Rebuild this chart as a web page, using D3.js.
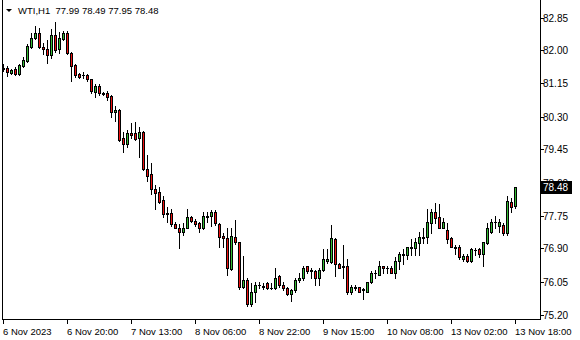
<!DOCTYPE html>
<meta charset="utf-8">
<style>
body { margin: 0; background: #fff; }
svg { display: block; font-family: "Liberation Sans", Arial, sans-serif; }
.frame, .tick { stroke: #000; stroke-width: 1; shape-rendering: crispEdges; }
</style>
<body>
<script src="https://d3js.org/d3.v7.min.js"></script>
<script>

// WTI H1 bars, oldest first
var opens = [
  81.53, 81.55, 81.42, 81.52, 81.39, 81.60, 81.73, 82.09, 82.32, 82.45,
  82.09, 82.04, 81.88, 82.40, 82.04, 82.30, 82.45, 81.93, 81.62, 81.39,
  81.37, 81.37, 81.26, 80.93, 81.08, 80.90, 80.90, 80.82, 80.41, 80.46,
  79.74, 79.59, 79.87, 79.87, 79.74, 79.90, 78.94, 78.81, 78.43, 78.35,
  78.14, 77.81, 77.81, 77.52, 77.44, 77.32, 77.44, 77.70, 77.60, 77.55,
  77.42, 77.73, 77.73, 77.83, 77.52, 77.21, 77.16, 76.36, 77.19, 77.06,
  75.90, 76.10, 75.48, 75.77, 75.95, 75.92, 76.00, 75.87, 75.87, 76.18,
  75.97, 75.87, 75.72, 75.82, 76.08, 76.13, 76.44, 76.34, 76.31, 76.13,
  76.34, 76.59, 76.54, 77.14, 76.49, 76.44, 76.44, 75.77, 75.87, 75.90,
  75.85, 75.79, 76.03, 76.26, 76.23, 76.44, 76.41, 76.39, 76.26, 76.57,
  76.72, 76.72, 76.90, 76.90, 77.03, 77.16, 77.19, 77.55, 77.83, 77.70,
  77.44, 77.37, 77.16, 76.95, 76.93, 76.62, 76.70, 76.57, 76.85, 76.88,
  76.75, 77.03, 77.32, 77.57, 77.47, 77.50, 77.29, 78.09, 77.99
];
var highs = [
  81.65, 81.60, 81.52, 81.57, 81.65, 81.83, 82.17, 82.45, 82.63, 82.58,
  82.19, 82.27, 82.55, 82.73, 82.48, 82.50, 82.50, 81.96, 81.65, 81.42,
  81.44, 81.39, 81.27, 81.13, 81.13, 80.94, 80.95, 80.85, 80.57, 80.49,
  79.90, 79.95, 80.13, 80.15, 80.02, 79.92, 79.30, 79.10, 78.53, 78.48,
  78.24, 77.96, 77.91, 77.57, 77.52, 77.55, 77.91, 77.75, 77.65, 77.57,
  77.83, 77.83, 77.88, 77.88, 77.55, 77.29, 77.44, 77.44, 77.63, 77.08,
  76.70, 76.15, 76.00, 76.03, 76.03, 76.00, 76.03, 76.00, 76.39, 76.21,
  76.03, 75.90, 75.85, 76.13, 76.26, 76.46, 76.46, 76.41, 76.34, 76.41,
  76.88, 76.88, 77.50, 77.16, 76.52, 76.98, 76.62, 75.97, 75.95, 75.92,
  75.87, 76.05, 76.31, 76.34, 76.59, 76.46, 76.44, 76.44, 76.67, 76.80,
  76.88, 76.95, 77.14, 77.16, 77.32, 77.42, 77.91, 77.91, 78.06, 78.04,
  77.68, 77.55, 77.19, 76.98, 76.98, 76.75, 76.75, 76.90, 76.90, 76.90,
  77.08, 77.55, 77.65, 77.75, 77.65, 77.55, 78.24, 78.19, 78.49
];
var lows = [
  81.47, 81.34, 81.39, 81.37, 81.37, 81.57, 81.70, 82.06, 82.30, 82.06,
  81.91, 81.68, 81.80, 81.96, 81.93, 82.27, 81.91, 81.21, 81.31, 81.29,
  81.29, 81.21, 80.90, 80.80, 80.85, 80.85, 80.72, 80.28, 80.18, 79.66,
  79.38, 79.51, 79.74, 79.69, 79.25, 78.92, 78.63, 78.30, 77.93, 78.06,
  77.70, 77.57, 77.47, 77.42, 76.90, 77.26, 77.42, 77.57, 77.47, 77.32,
  77.39, 77.57, 77.47, 77.50, 76.95, 76.95, 76.23, 76.34, 77.01, 75.85,
  75.87, 75.43, 75.43, 75.51, 75.87, 75.85, 75.85, 75.85, 75.85, 75.92,
  75.82, 75.69, 75.56, 75.79, 76.03, 76.10, 76.28, 76.15, 75.97, 75.97,
  76.31, 76.52, 76.52, 76.18, 76.39, 76.15, 75.74, 75.74, 75.82, 75.77,
  75.59, 75.77, 76.00, 76.13, 76.21, 76.28, 76.26, 76.26, 76.13, 76.36,
  76.49, 76.64, 76.72, 76.72, 76.72, 77.03, 77.03, 77.29, 77.55, 77.42,
  77.42, 77.03, 76.93, 76.75, 76.64, 76.59, 76.54, 76.54, 76.72, 76.67,
  76.44, 77.01, 77.29, 77.44, 77.32, 77.26, 77.26, 77.83, 77.95
];
var closes = [
  81.55, 81.44, 81.50, 81.39, 81.62, 81.75, 82.11, 82.32, 82.45, 82.09,
  82.04, 81.88, 82.40, 82.01, 82.32, 82.45, 81.93, 81.60, 81.37, 81.31,
  81.36, 81.26, 80.95, 81.08, 80.90, 80.89, 80.80, 80.41, 80.46, 79.69,
  79.59, 79.87, 79.82, 79.72, 79.90, 78.94, 78.76, 78.43, 78.32, 78.09,
  77.78, 77.80, 77.52, 77.44, 77.32, 77.44, 77.70, 77.60, 77.52, 77.42,
  77.75, 77.72, 77.83, 77.55, 77.19, 77.16, 76.39, 77.21, 77.06, 75.90,
  76.08, 75.48, 75.79, 75.95, 75.96, 75.93, 75.87, 75.88, 76.15, 75.95,
  75.87, 75.72, 75.82, 76.10, 76.15, 76.41, 76.31, 76.33, 76.13, 76.34,
  76.62, 76.64, 77.16, 76.49, 76.41, 76.43, 75.77, 75.90, 75.92, 75.79,
  75.84, 76.03, 76.26, 76.28, 76.44, 76.39, 76.40, 76.28, 76.57, 76.75,
  76.75, 76.93, 76.93, 77.06, 77.19, 77.19, 77.57, 77.83, 77.68, 77.44,
  77.57, 77.14, 76.95, 76.90, 76.67, 76.70, 76.57, 76.88, 76.86, 76.77,
  77.06, 77.42, 77.57, 77.58, 77.57, 77.29, 78.12, 77.96, 78.48
];

var priceTicks = ["75.20", "76.05", "76.90", "77.75", "78.60", "79.45", "80.30", "81.15", "82.00", "82.85"];
var timeLabels = ["6 Nov 2023", "6 Nov 20:00", "7 Nov 13:00", "8 Nov 06:00", "8 Nov 22:00",
                  "9 Nov 15:00", "10 Nov 08:00", "13 Nov 02:00", "13 Nov 18:00"];
var timeLabelBars = [0, 16, 32, 48, 64, 80, 96, 112, 128];
var header = "WTI,H1  77.99 78.49 77.95 78.48";
var lastPrice = "78.48";

var W = 580, H = 340;
var plotRight = 540, plotBottom = 319;
var bullColor = "#33bb33", bearColor = "#ee1111";

var svg = d3.select("body").append("svg")
    .attr("width", W)
    .attr("height", H);

var bars = opens.map(function(o, i) {
  return {i: i, o: o, h: highs[i], l: lows[i], c: closes[i]};
});

var x = d3.scaleLinear().domain([0, bars.length - 1]).range([3.5, 515.5]);
var y = d3.scaleLinear().domain([75.20, 82.85]).range([314.5, 17.5]);

// frame
svg.append("line").attr("class", "frame")
    .attr("x1", 2.5).attr("x2", 2.5).attr("y1", 0).attr("y2", plotBottom + 0.5);
svg.append("line").attr("class", "frame")
    .attr("x1", plotRight + 0.5).attr("x2", plotRight + 0.5).attr("y1", 0).attr("y2", plotBottom + 0.5);
svg.append("line").attr("class", "frame")
    .attr("x1", 2).attr("x2", plotRight + 1).attr("y1", plotBottom + 0.5).attr("y2", plotBottom + 0.5);

// candles
var g = svg.append("g");
bars.forEach(function(d) {
  var cx = x(d.i);
  var yh = Math.round(y(d.h)), yl = Math.round(y(d.l));
  var yo = Math.round(y(d.o)), yc = Math.round(y(d.c));
  g.append("rect")
      .attr("x", cx - 0.5).attr("y", yh)
      .attr("width", 1).attr("height", yl - yh + 1)
      .attr("fill", "#000");
  var top = Math.min(yo, yc), bot = Math.max(yo, yc);
  if (bot - top < 1) {
    g.append("rect")
        .attr("x", cx - 1.5).attr("y", top)
        .attr("width", 3).attr("height", 1)
        .attr("fill", "#000");
  } else {
    g.append("rect")
        .attr("x", cx - 1.5).attr("y", top)
        .attr("width", 3).attr("height", bot - top + 1)
        .attr("fill", "#000");
    if (bot - top > 1) {
      g.append("rect")
          .attr("x", cx - 0.5).attr("y", top + 1)
          .attr("width", 1).attr("height", bot - top - 1)
          .attr("fill", d.c >= d.o ? bullColor : bearColor);
    }
  }
});

// price axis
priceTicks.forEach(function(t) {
  var py = Math.round(y(+t)) + 0.5;
  svg.append("line").attr("class", "tick")
      .attr("x1", plotRight).attr("x2", plotRight + 4).attr("y1", py).attr("y2", py);
  svg.append("text")
      .attr("x", plotRight + 3).attr("y", py + 3.5)
      .attr("font-size", "10px")
      .attr("fill", "#000")
      .text(t);
});

// current price box
var lp = Math.round(y(+lastPrice));
svg.append("rect")
    .attr("x", plotRight + 1).attr("y", lp - 6)
    .attr("width", 31).attr("height", 13)
    .attr("fill", "#000");
svg.append("text")
    .attr("x", plotRight + 3).attr("y", lp + 4)
    .attr("font-size", "10px")
    .attr("fill", "#fff")
    .text(lastPrice);

// time axis
timeLabels.forEach(function(t, k) {
  var tx = x(timeLabelBars[k]);
  svg.append("line").attr("class", "tick")
      .attr("x1", tx).attr("x2", tx).attr("y1", plotBottom).attr("y2", plotBottom + 5);
  svg.append("text")
      .attr("x", tx - 0.5).attr("y", 335)
      .attr("font-size", "9.5px")
      .attr("fill", "#000")
      .text(t);
});

// header
svg.append("path")
    .attr("d", "M6,9L12,9L9,12Z")
    .attr("fill", "#000");
svg.append("text")
    .attr("x", 18).attr("y", 14)
    .attr("font-size", "9.5px")
    .attr("fill", "#000")
    .style("white-space", "pre")
    .text(header);

</script>
</body>
